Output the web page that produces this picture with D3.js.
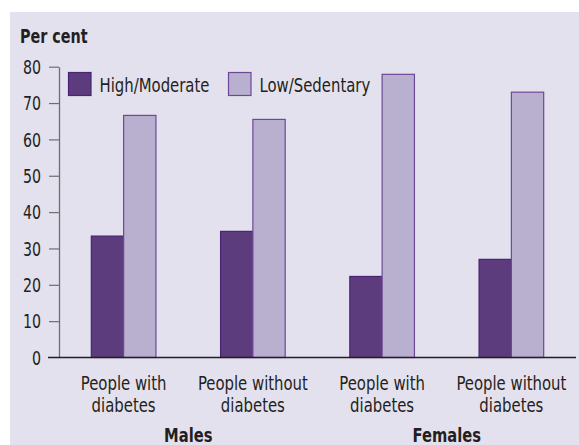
<!DOCTYPE html>
<html>
<head>
<meta charset="utf-8">
<script src="https://cdn.jsdelivr.net/npm/d3@7"></script>
<style>
  body { margin: 0; background: #fff; }
  svg text { font-family: "DejaVu Sans Condensed", "DejaVu Sans", sans-serif; font-stretch: condensed; fill: #231f20; }
</style>
</head>
<body>
<div id="chart"></div>
<script>
// physical activity by diabetes status
var categories = ["People with|diabetes", "People without|diabetes", "People with|diabetes", "People without|diabetes"];
var sexes = ["Males", "Females"];
var series = ["High/Moderate", "Low/Sedentary"];
var highModerate = [33.4, 34.7, 22.3, 27.0];
var lowSedentary = [66.6, 65.5, 77.9, 73.0];
var yTicks = [0, 10, 20, 30, 40, 50, 60, 70, 80];

var colours = ["#5c3c7d", "#b9afcf"];
var strokes = ["#4a2472", "#6e4898"];

var width = 579, height = 445;

// no narrow font installed -> squeeze the glyphs a bit
function squeeze(sel, k) {
  sel.each(function() {
    var len = this.getComputedTextLength();
    d3.select(this)
      .attr("textLength", len * k)
      .attr("lengthAdjust", "spacingAndGlyphs");
  });
}

var svg = d3.select("#chart").append("svg")
    .attr("width", width)
    .attr("height", height);

// background panel
svg.append("rect")
    .attr("x", 10).attr("y", 12)
    .attr("width", width - 10).attr("height", height - 12)
    .attr("fill", "#e4e1ee");

var x0 = d3.scaleBand()
    .domain(d3.range(categories.length))
    .range([59, 576])
    .paddingInner(0.5)
    .paddingOuter(0.25);

var x1 = d3.scaleBand()
    .domain(series)
    .range([0, x0.bandwidth()]);

var y = d3.scaleLinear()
    .domain([0, 80])
    .range([357.5, 66.7]);

// y axis
var yAxis = svg.append("g")
    .attr("transform", "translate(59,0)")
    .call(d3.axisLeft(y).tickValues(yTicks).tickSize(10).tickPadding(8).tickSizeOuter(0));
yAxis.select(".domain").attr("stroke", "#6d6e71").attr("stroke-width", 1.3);
yAxis.selectAll(".tick line").attr("stroke", "#6d6e71").attr("stroke-width", 1.2);
yAxis.selectAll(".tick text")
    .style("font-size", "19px")
    .attr("dy", "0.36em")
    .call(squeeze, 0.83);
yAxis.selectAll(".tick").filter(function(d) { return d === 0; }).select("line").remove();

var data = categories.map(function(c, i) {
  return { i: i, values: [highModerate[i], lowSedentary[i]] };
});

var groups = svg.selectAll("g.grp")
    .data(data)
    .enter().append("g")
    .attr("class", "grp")
    .attr("transform", function(d) { return "translate(" + x0(d.i) + ",0)"; });

groups.selectAll("rect")
    .data(function(d) { return d.values.map(function(v, k) { return { k: k, v: v }; }); })
    .enter().append("rect")
    .attr("x", function(d) { return x1(series[d.k]); })
    .attr("y", function(d) { return y(d.v); })
    .attr("width", x1.bandwidth())
    .attr("height", function(d) { return y(0) - y(d.v); })
    .attr("fill", function(d) { return colours[d.k]; })
    .attr("stroke", function(d) { return strokes[d.k]; })
    .attr("stroke-width", 1.2);

// baseline
svg.append("line")
    .attr("x1", 48).attr("x2", 576)
    .attr("y1", y(0)).attr("y2", y(0))
    .attr("stroke", "#231f20")
    .attr("stroke-width", 1.4);

// category labels
groups.each(function(d) {
  var g = d3.select(this);
  categories[d.i].split("|").forEach(function(l, j) {
    g.append("text")
      .attr("x", x0.bandwidth() / 2)
      .attr("y", 390 + j * 21.5)
      .attr("text-anchor", "middle")
      .style("font-size", "19px")
      .text(l)
      .call(squeeze, 0.87);
  });
});

// sex labels
sexes.forEach(function(s, k) {
  var cx = (x0(k * 2) + x0(k * 2 + 1) + x0.bandwidth()) / 2;
  svg.append("text")
      .attr("x", cx)
      .attr("y", 441.5)
      .attr("text-anchor", "middle")
      .style("font-size", "19px")
      .style("font-weight", "bold")
      .text(s)
      .call(squeeze, 0.86);
});

// y title
svg.append("text")
    .attr("x", 20).attr("y", 42.5)
    .style("font-size", "19px")
    .style("font-weight", "bold")
    .text("Per cent")
    .call(squeeze, 0.84);

// legend
var legendX = [68.5, 228.5];
series.forEach(function(s, k) {
  svg.append("rect")
      .attr("x", legendX[k]).attr("y", 72.5)
      .attr("width", 22.5).attr("height", 23)
      .attr("fill", colours[k])
      .attr("stroke", strokes[k])
      .attr("stroke-width", 1.2);
  svg.append("text")
      .attr("x", legendX[k] + 31).attr("y", 91.5)
      .style("font-size", "19px")
      .text(s)
      .call(squeeze, 0.87);
});
</script>
</body>
</html>
